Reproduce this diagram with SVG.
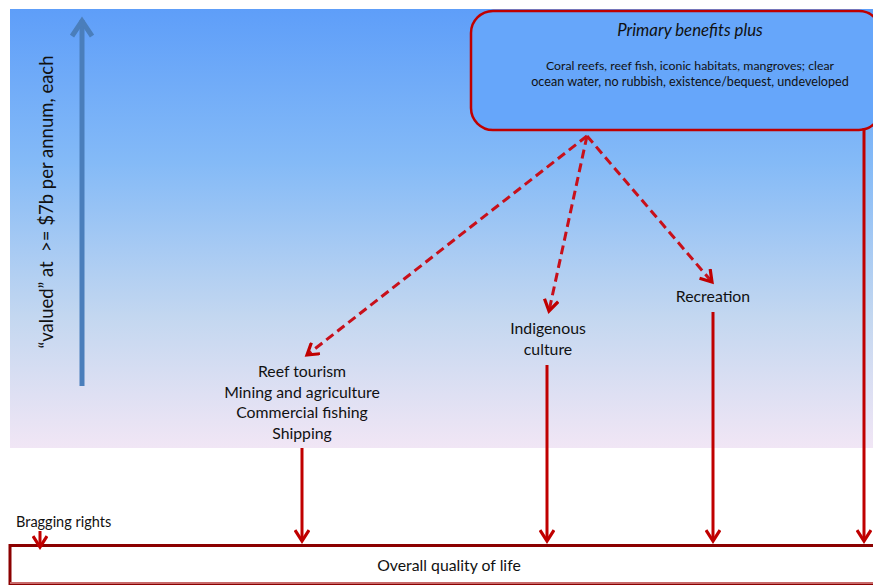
<svg xmlns="http://www.w3.org/2000/svg" width="873" height="585" viewBox="0 0 873 585">
<style>
text{font-family:Lato,"Open Sans","Liberation Sans",sans-serif;fill:#111111;}
.lbl{font-size:15.8px;text-anchor:middle;}
.solid{stroke:#c00000;stroke-width:3;fill:none;}
.dash{stroke:#c8101a;stroke-width:3;fill:none;stroke-dasharray:9 5;}
</style>
<defs>
<linearGradient id="bg" x1="0" y1="0" x2="0" y2="1">
<stop offset="0" stop-color="#5e9ef9"/>
<stop offset="0.35" stop-color="#84baf7"/>
<stop offset="0.7" stop-color="#c3d7f0"/>
<stop offset="1" stop-color="#f1e6f5"/>
</linearGradient>
<marker id="ahd" markerWidth="16" markerHeight="16" viewBox="0 0 16 16" refX="13" refY="8" orient="auto" markerUnits="userSpaceOnUse">
<path d="M2,1 L13,8 L2,15" fill="none" stroke="#c00000" stroke-width="3.2"/>
</marker>
<marker id="ahb" markerWidth="24" markerHeight="24" viewBox="0 0 24 24" refX="20" refY="12" orient="auto" markerUnits="userSpaceOnUse">
<path d="M4,2 L19,12 L4,22" fill="none" stroke="#4a7ebb" stroke-width="5"/>
</marker>
</defs>
<rect x="10" y="9" width="863" height="439" fill="url(#bg)"/>
<g id="value-axis">
<line x1="82" y1="386" x2="82" y2="20" stroke="#4a7ebb" stroke-width="5" marker-end="url(#ahb)"/>
<text transform="translate(53,202) rotate(-90)" font-size="18.5" text-anchor="middle" xml:space="preserve">“valued” at  &gt;= $7b per annum, each</text>
</g>
<g id="primary">
<rect x="471" y="11" width="410" height="119" rx="22" fill="#66a6fa" stroke="#c00000" stroke-width="2.5"/>
<text x="690" y="36" font-size="16.8" font-style="italic" text-anchor="middle">Primary benefits plus</text>
<text x="690" y="70" font-size="12.3" text-anchor="middle">Coral reefs, reef fish, iconic habitats, mangroves; clear</text>
<text x="690" y="86" font-size="12.6" text-anchor="middle">ocean water, no rubbish, existence/bequest, undeveloped</text>
</g>
<g id="industries">
<text class="lbl" x="302" y="377">Reef tourism</text>
<text class="lbl" x="302" y="398">Mining and agriculture</text>
<text class="lbl" x="302" y="418">Commercial fishing</text>
<text class="lbl" x="302" y="439">Shipping</text>
</g>
<g id="indigenous">
<text class="lbl" x="548" y="334">Indigenous</text>
<text class="lbl" x="548" y="355">culture</text>
</g>
<g id="recreation">
<text class="lbl" x="713" y="302">Recreation</text>
</g>
<g id="bragging">
<text x="16" y="527" font-size="14.5">Bragging rights</text>
</g>
<g id="quality">
<rect x="10" y="545.5" width="880" height="38" fill="#ffffff" stroke="#8b0000" stroke-width="3"/>
<line x1="10" y1="583" x2="873" y2="583" stroke="#c86a6a" stroke-width="2"/>
<text class="lbl" x="449" y="571">Overall quality of life</text>
</g>
<g id="connectors">
<path class="dash" d="M587,136 L307,355" marker-end="url(#ahd)"/>
<path class="dash" d="M587,136 L549,311" marker-end="url(#ahd)"/>
<path class="dash" d="M587,136 L712,282" marker-end="url(#ahd)"/>
<line class="solid" x1="302" y1="448" x2="302" y2="541" marker-end="url(#ahd)"/>
<line class="solid" x1="547" y1="365" x2="547" y2="541" marker-end="url(#ahd)"/>
<line class="solid" x1="713" y1="312" x2="713" y2="541" marker-end="url(#ahd)"/>
<line class="solid" x1="864" y1="128" x2="864" y2="541" marker-end="url(#ahd)"/>
<line class="solid" x1="40" y1="531" x2="40" y2="547" marker-end="url(#ahd)"/>
</g>
</svg>
